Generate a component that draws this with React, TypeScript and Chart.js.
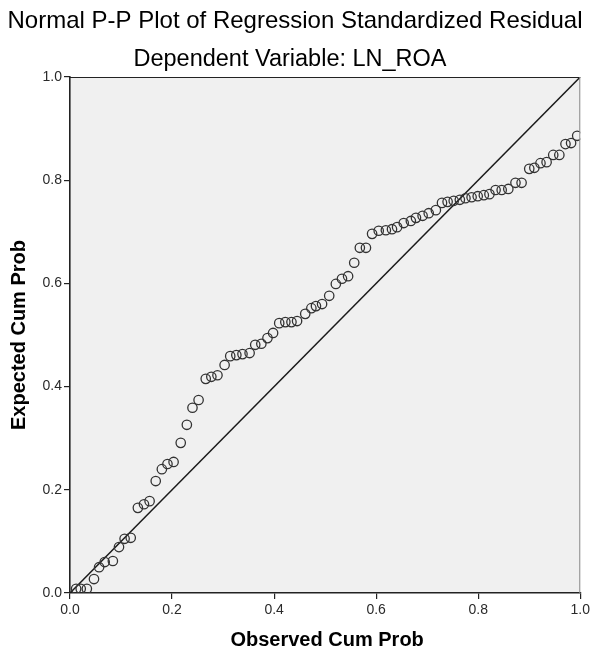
import React, { useEffect, useRef } from "react";
import { Chart, registerables } from "chart.js";

Chart.register(...registerables);

const observedCumProb = [
  0.012, 0.021, 0.033, 0.047, 0.057, 0.068, 0.084, 0.096, 0.107, 0.119,
  0.133, 0.145, 0.156, 0.168, 0.18, 0.191, 0.203, 0.217, 0.229, 0.24,
  0.252, 0.266, 0.277, 0.289, 0.303, 0.314, 0.326, 0.338, 0.352, 0.363,
  0.375, 0.387, 0.398, 0.41, 0.422, 0.434, 0.445, 0.461, 0.473, 0.482,
  0.494, 0.508, 0.521, 0.533, 0.545, 0.557, 0.568, 0.58, 0.592, 0.605,
  0.619, 0.631, 0.641, 0.654, 0.668, 0.678, 0.691, 0.703, 0.717, 0.729,
  0.74, 0.752, 0.764, 0.775, 0.787, 0.799, 0.811, 0.822, 0.834, 0.846,
  0.859, 0.873, 0.885, 0.9, 0.91, 0.922, 0.934, 0.947, 0.959, 0.971,
  0.982, 0.994,
];

const expectedCumProb = [
  0.008, 0.008, 0.008, 0.027, 0.05, 0.06, 0.062, 0.089, 0.105, 0.107,
  0.165, 0.172, 0.178, 0.217, 0.24, 0.25, 0.254, 0.291, 0.326, 0.359,
  0.374, 0.415, 0.419, 0.422, 0.442, 0.459, 0.461, 0.463, 0.465, 0.481,
  0.483, 0.494, 0.504, 0.523, 0.525, 0.525, 0.527, 0.541, 0.552, 0.556,
  0.56, 0.576, 0.599, 0.609, 0.614, 0.64, 0.669, 0.669, 0.696, 0.702,
  0.703, 0.705, 0.709, 0.717, 0.721, 0.727, 0.731, 0.736, 0.742, 0.756,
  0.758, 0.76, 0.762, 0.765, 0.767, 0.769, 0.771, 0.773, 0.781, 0.781,
  0.783, 0.795, 0.795, 0.822, 0.824, 0.833, 0.835, 0.849, 0.849, 0.87,
  0.872, 0.886,
];

const referenceLine = [
  { x: 0, y: 0 },
  { x: 1, y: 1 },
];

const tickValues = [0, 0.2, 0.4, 0.6, 0.8, 1.0];

const titleText = "Normal P-P Plot of Regression Standardized Residual";
const subtitleText = "Dependent Variable: LN_ROA";
const xTitle = "Observed Cum Prob";
const yTitle = "Expected Cum Prob";

const FONT = '"Liberation Sans", Arial, sans-serif';

const framePlugin = {
  id: "spssFrame",
  beforeDraw(chart: any) {
    const { ctx, chartArea } = chart;
    ctx.save();
    ctx.fillStyle = "#ffffff";
    ctx.fillRect(0, 0, chart.width, chart.height);
    ctx.fillStyle = "#f0f0f0";
    ctx.fillRect(
      chartArea.left,
      chartArea.top,
      chartArea.right - chartArea.left,
      chartArea.bottom - chartArea.top
    );
    ctx.restore();
  },
  afterDraw(chart: any) {
    const { ctx, chartArea } = chart;
    ctx.save();
    ctx.strokeStyle = "#222";
    ctx.lineWidth = 1;
    ctx.beginPath();
    ctx.moveTo(chartArea.left, chartArea.top + 0.5);
    ctx.lineTo(chartArea.right, chartArea.top + 0.5);
    ctx.stroke();
    ctx.strokeStyle = "#8a8a8a";
    ctx.beginPath();
    ctx.moveTo(chartArea.right - 0.5, chartArea.top);
    ctx.lineTo(chartArea.right - 0.5, chartArea.bottom);
    ctx.stroke();

    ctx.fillStyle = "#000";
    ctx.textAlign = "center";
    ctx.textBaseline = "middle";
    ctx.font = `24px ${FONT}`;
    ctx.fillText(titleText, 295, 21);
    ctx.font = `23.5px ${FONT}`;
    ctx.fillText(subtitleText, 290, 60);

    ctx.font = `bold 20px ${FONT}`;
    ctx.fillText(xTitle, (chartArea.left + chartArea.right) / 2 + 2, 640);
    ctx.save();
    ctx.translate(19, (chartArea.top + chartArea.bottom) / 2);
    ctx.rotate(-Math.PI / 2);
    ctx.fillText(yTitle, 0, 0);
    ctx.restore();
    ctx.restore();
  },
};

export default function App() {
  const canvasRef = useRef<HTMLCanvasElement | null>(null);

  useEffect(() => {
    document.body.style.margin = "0";
    const canvas = canvasRef.current;
    if (!canvas) return;
    const points = observedCumProb.map((x, i) => ({ x, y: expectedCumProb[i] }));
    const tickCallback = (v: any) => Number(v).toFixed(1);
    const chart = new Chart(canvas, {
      type: "scatter",
      data: {
        datasets: [
          {
            label: "Reference",
            data: referenceLine,
            showLine: true,
            borderColor: "#1a1a1a",
            borderWidth: 1.5,
            pointRadius: 0,
            pointHoverRadius: 0,
            fill: false,
            order: 2,
          },
          {
            label: "Residual",
            data: points,
            pointStyle: "circle",
            pointRadius: 4.7,
            pointBorderWidth: 1.3,
            pointBackgroundColor: "rgba(0,0,0,0)",
            pointBorderColor: "#333333",
            backgroundColor: "rgba(0,0,0,0)",
            borderColor: "#333333",
            order: 1,
          },
        ],
      },
      options: {
        animation: false,
        responsive: false,
        devicePixelRatio: 1,
        layout: { padding: { left: 0, top: 77, right: 11, bottom: 0 } },
        plugins: {
          legend: { display: false },
          title: { display: false },
          tooltip: { enabled: false },
        },
        scales: {
          x: {
            type: "linear",
            min: 0,
            max: 1,
            afterFit: (scale: any) => {
              scale.height = 63;
            },
            afterBuildTicks: (scale: any) => {
              scale.ticks = tickValues.map((v) => ({ value: v }));
            },
            ticks: {
              callback: tickCallback,
              color: "#2a2a2a",
              font: { family: FONT, size: 14 },
              padding: 3,
              maxRotation: 0,
            },
            grid: {
              drawOnChartArea: false,
              drawTicks: true,
              tickLength: 6,
              color: "#222",
              lineWidth: 1.2,
            },
            border: { display: true, color: "#222", width: 1.6 },
          },
          y: {
            type: "linear",
            min: 0,
            max: 1,
            afterFit: (scale: any) => {
              scale.width = 70;
            },
            afterBuildTicks: (scale: any) => {
              scale.ticks = tickValues.map((v) => ({ value: v }));
            },
            ticks: {
              callback: tickCallback,
              color: "#2a2a2a",
              font: { family: FONT, size: 14 },
              padding: 2,
            },
            grid: {
              drawOnChartArea: false,
              drawTicks: true,
              tickLength: 6,
              color: "#222",
              lineWidth: 1.2,
            },
            border: { display: true, color: "#222", width: 1.6 },
          },
        },
      },
      plugins: [framePlugin],
    });
    return () => {
      chart.destroy();
    };
  }, []);

  return (
    <div style={{ position: "absolute", left: 0, top: 0, width: 593, height: 656 }}>
      <canvas ref={canvasRef} width={593} height={656} style={{ width: 593, height: 656 }} />
    </div>
  );
}
